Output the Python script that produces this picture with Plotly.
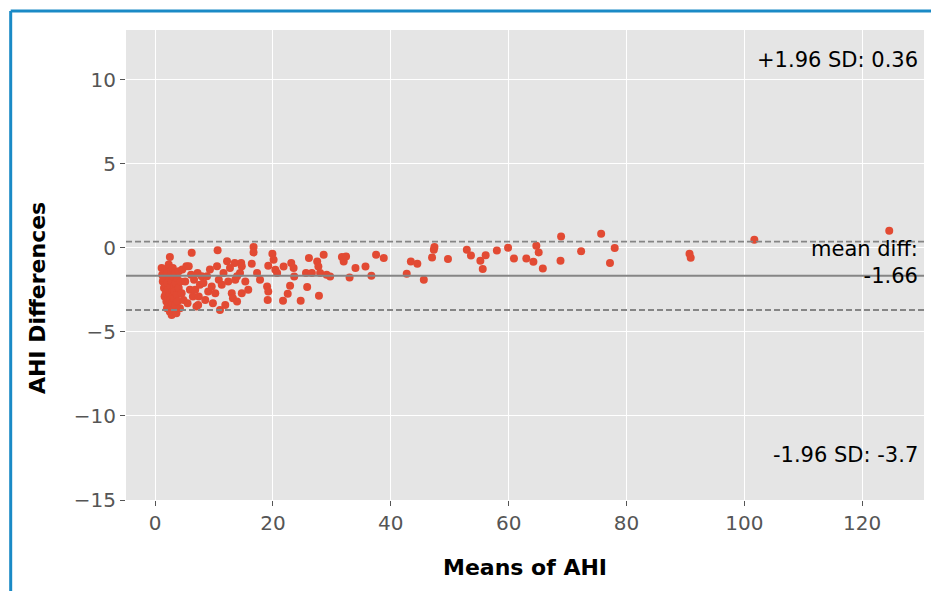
import plotly.graph_objects as go

# ---- data ----
means = [
    1.1, 1.2, 1.3, 1.4, 1.5, 1.6, 1.7, 1.7, 1.8, 1.9, 2.0, 2.0, 2.1, 2.2, 2.2, 2.3, 2.3, 2.4, 2.5, 2.5,
    2.5, 2.6, 2.6, 2.7, 2.7, 2.8, 2.8, 2.9, 2.9, 3.0, 3.0, 3.1, 3.1, 3.2, 3.2, 3.3, 3.4, 3.4, 3.5, 3.6,
    3.7, 3.7, 3.8, 4.0, 4.0, 4.2, 4.3, 4.5, 4.6, 4.8,
    5.1, 5.3, 5.5, 5.7, 5.9, 6.1, 6.2, 6.4, 6.6, 6.8, 7.0, 7.2, 7.3, 7.4, 7.6, 7.9, 8.2, 8.5, 8.8, 9.0,
    9.3, 9.6, 9.8, 10.2, 10.5, 10.6, 10.8, 11.0, 11.3, 11.6, 11.9, 12.2, 12.4, 12.7, 13.0, 13.2, 13.5,
    13.6, 13.9, 13.9, 14.4, 14.6, 14.7, 14.7, 15.3, 15.8,
    16.4, 16.7, 16.7, 17.3, 17.8, 19.0, 19.1, 19.2, 19.2, 19.9, 20.1, 20.4, 20.7, 21.7, 21.8, 22.5,
    22.9, 23.1, 23.5, 23.6, 24.7, 25.6, 25.8, 26.1, 26.6, 27.5, 27.7, 27.8, 28.0, 28.6, 29.1, 29.7,
    31.7, 32.0, 32.4, 33.0, 34.0, 35.7, 36.7, 37.5, 38.8, 42.7, 43.4, 44.5, 45.6, 47.0, 47.3, 47.4, 49.7,
    52.9, 53.6, 55.2, 56.1, 55.6, 58.0, 59.9, 60.9, 63.0, 64.2, 64.7, 65.1, 65.8, 68.9, 68.8, 72.3,
    75.7, 78.0, 77.2,
    90.7, 90.9, 101.7, 124.6,
]
diffs = [
    -1.2, -1.6, -2.0, -1.8, -2.4, -2.9, -1.3, -2.2, -2.7, -3.2, -1.5, -3.6, -2.1, -2.5, -3.0, -1.0, -3.4, -1.8, -0.55, -2.8,
    -3.8, -2.3, -3.1, -1.4, -3.5, -2.0, -4.0, -2.6, -3.3, -1.2, -2.9, -1.7, -3.7, -2.3, -3.0, -2.6, -1.5, -3.4, -2.1, -3.9,
    -1.8, -2.8, -3.2, -1.4, -2.4, -3.6, -2.0, -2.7, -1.3, -3.1,
    -2.0, -1.1, -3.3, -1.1, -2.5, -1.6, -0.3, -2.9, -1.9, -2.5, -3.5, -1.5, -3.4, -2.9, -2.2, -1.7, -2.1, -3.1, -1.7, -2.6,
    -1.3, -2.3, -3.3, -2.7, -1.1, -0.15, -1.9, -3.7, -2.2, -1.5, -3.4, -0.8, -2.0, -1.2, -2.7, -3.0, -0.9,
    -1.9, -1.7, -3.2, -1.5, -0.9, -1.1, -2.7, -2.0, -2.5,
    -0.95, 0.04, -0.28, -1.5, -1.9, -2.3, -3.1, -2.6, -1.07, -0.36, -0.71, -1.31, -1.5, -3.15, -1.11, -2.74,
    -2.26, -0.91, -1.21, -1.71, -3.15, -1.5, -2.34, -0.61, -1.5, -0.81, -1.11, -2.86, -1.5, -0.42, -1.61, -1.71,
    -0.55, -0.81, -0.52, -1.77, -1.21, -1.11, -1.67, -0.42, -0.61, -1.55, -0.81, -0.95, -1.9, -0.58, -0.12, 0.04, -0.67,
    -0.12, -0.46, -0.77, -0.44, -1.27, -0.16, 0.0, -0.64, -0.64, -0.83, 0.12, -0.28, -1.23, 0.67, -0.77, -0.2,
    0.83, -0.02, -0.91,
    -0.36, -0.6, 0.48, 1.01,
]
mean_diff = -1.66
upper_loa = 0.36
lower_loa = -3.7
x_ticks = [0, 20, 40, 60, 80, 100, 120]
y_ticks = [-15, -10, -5, 0, 5, 10]

FONT = "DejaVu Sans"
fig = go.Figure()
fig.add_trace(go.Scatter(
    x=means, y=diffs, mode="markers",
    marker=dict(color="#E24A33", size=8, line=dict(width=0)),
    hoverinfo="skip", showlegend=False,
))

# reference lines
for yv, dash, w in [(mean_diff, "solid", 2), (upper_loa, "6px,3px", 1.8), (lower_loa, "6px,3px", 1.8)]:
    fig.add_shape(type="line", xref="paper", x0=0, x1=1, yref="y", y0=yv, y1=yv,
                  line=dict(color="#858585", width=w, dash=dash), layer="above")

# blue frame (left and top edges)
fig.add_shape(type="line", xref="paper", yref="paper", x0=-0.1445, x1=-0.1445, y0=-0.25, y1=1.0405,
              line=dict(color="#1a8ac6", width=3))
fig.add_shape(type="line", xref="paper", yref="paper", x0=-0.1445, x1=1.02, y0=1.0405, y1=1.0405,
              line=dict(color="#1a8ac6", width=3))

ann_font = dict(family=FONT, size=21, color="black")
fig.add_annotation(xref="paper", yref="paper", x=0.995, y=0.936, text=f"+1.96 SD: {upper_loa}",
                   showarrow=False, xanchor="right", yanchor="middle", font=ann_font)
fig.add_annotation(xref="paper", yref="paper", x=0.995, y=0.505, text=f"mean diff:<br>{mean_diff}",
                   showarrow=False, xanchor="right", yanchor="middle", align="right", font=ann_font)
fig.add_annotation(xref="paper", yref="paper", x=0.995, y=0.096, text=f"-1.96 SD: {lower_loa}",
                   showarrow=False, xanchor="right", yanchor="middle", font=ann_font)

lab_font = dict(family=FONT, size=22, color="black")
fig.add_annotation(xref="paper", yref="paper", x=0.5, y=-0.143, text="<b>Means of AHI</b>",
                   showarrow=False, xanchor="center", yanchor="middle", font=lab_font)
fig.add_annotation(xref="paper", yref="paper", x=-0.11, y=0.43, text="<b>AHI Differences</b>",
                   showarrow=False, xanchor="center", yanchor="middle", textangle=-90, font=lab_font)

axis_common = dict(
    showgrid=True, gridcolor="white", gridwidth=1.4, zeroline=False,
    ticks="outside", ticklen=5, tickwidth=1.2, tickcolor="#555555",
    tickfont=dict(family=FONT, size=20, color="#555555"), showline=False,
)
fig.update_xaxes(range=[-4.95, 130.5], tickvals=x_ticks, **axis_common)
fig.update_yaxes(range=[-15, 12.95], tickvals=y_ticks,
                 ticktext=[("\u2212" + str(-v)) if v < 0 else str(v) for v in y_ticks], **axis_common)

fig.update_layout(
    width=931, height=591,
    margin=dict(l=126, r=7, t=30, b=91),
    paper_bgcolor="white", plot_bgcolor="#E5E5E5",
    font=dict(family=FONT),
)
fig.write_html("out.html")
